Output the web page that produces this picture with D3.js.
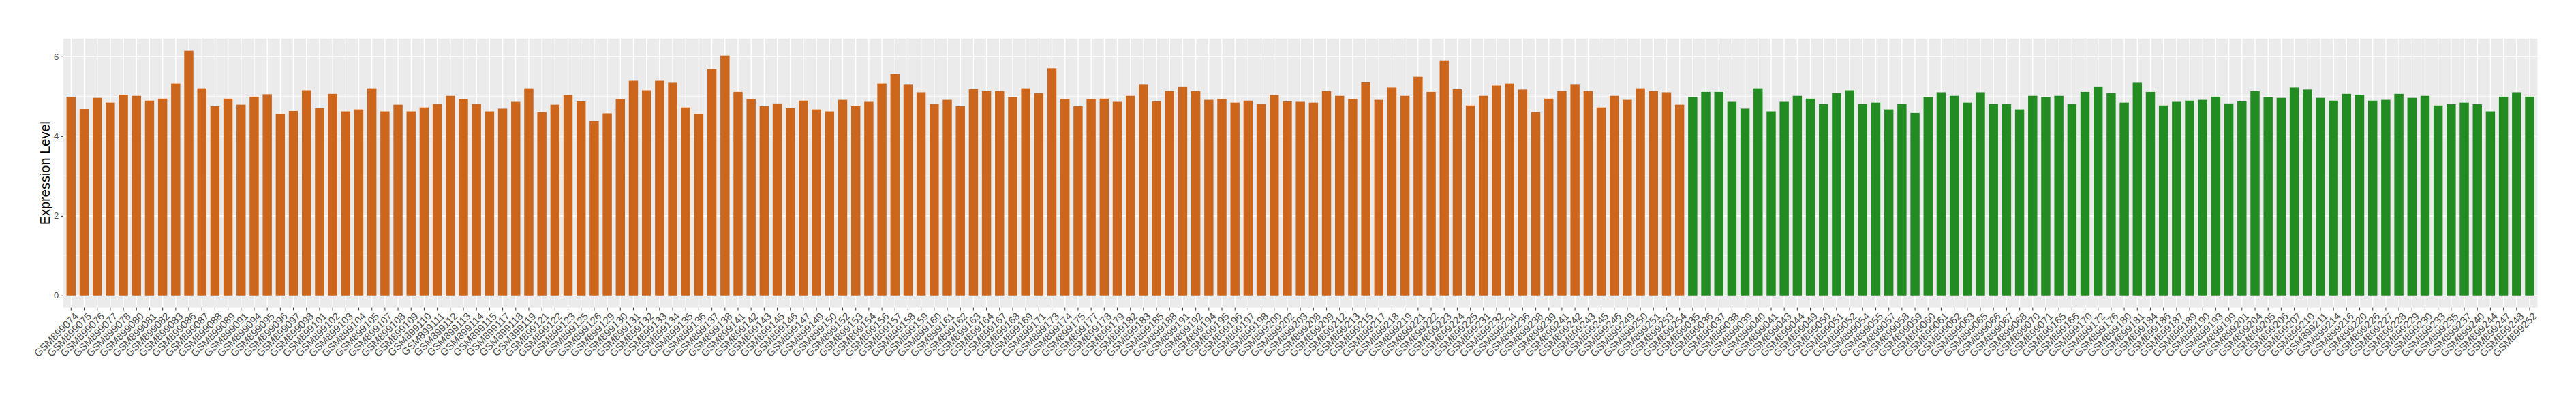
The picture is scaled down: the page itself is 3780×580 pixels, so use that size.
<!DOCTYPE html>
<html>
<head>
<meta charset="utf-8">
<script src="https://cdn.jsdelivr.net/npm/d3@7"></script>
<style>
  html, body { margin: 0; padding: 0; background: #ffffff; }
  svg { display: block; font-family: "Liberation Sans", Arial, Helvetica, sans-serif; }
</style>
</head>
<body>
<svg id="chart" width="3780" height="580"></svg>
<script>
// ---------- DATA ----------
const groupASamples = [
  "GSM899074","GSM899075","GSM899076","GSM899077","GSM899078","GSM899080","GSM899081","GSM899082","GSM899083","GSM899086",
  "GSM899087","GSM899088","GSM899089","GSM899091","GSM899094","GSM899095","GSM899096","GSM899097","GSM899098","GSM899101",
  "GSM899102","GSM899103","GSM899104","GSM899105","GSM899107","GSM899108","GSM899109","GSM899110","GSM899111","GSM899112",
  "GSM899113","GSM899114","GSM899115","GSM899117","GSM899118","GSM899119","GSM899121","GSM899122","GSM899123","GSM899125",
  "GSM899126","GSM899129","GSM899130","GSM899131","GSM899132","GSM899133","GSM899134","GSM899135","GSM899136","GSM899137",
  "GSM899138","GSM899141","GSM899142","GSM899143","GSM899145","GSM899146","GSM899147","GSM899149","GSM899150","GSM899152",
  "GSM899153","GSM899154","GSM899156","GSM899157","GSM899158","GSM899159","GSM899160","GSM899161","GSM899162","GSM899163",
  "GSM899164","GSM899167","GSM899168","GSM899169","GSM899171","GSM899173","GSM899174","GSM899175","GSM899177","GSM899178",
  "GSM899179","GSM899182","GSM899183","GSM899185","GSM899188","GSM899191","GSM899192","GSM899194","GSM899195","GSM899196",
  "GSM899197","GSM899198","GSM899200","GSM899202","GSM899203","GSM899208","GSM899209","GSM899212","GSM899213","GSM899215",
  "GSM899217","GSM899218","GSM899219","GSM899221","GSM899222","GSM899223","GSM899224","GSM899225","GSM899231","GSM899232",
  "GSM899234","GSM899236","GSM899238","GSM899239","GSM899241","GSM899242","GSM899243","GSM899245","GSM899246","GSM899249",
  "GSM899250","GSM899251","GSM899253","GSM899254"
];
const groupAValues = [
  4.99,4.68,4.96,4.84,5.04,5.01,4.89,4.94,5.32,6.14,
  5.20,4.75,4.94,4.79,4.99,5.05,4.55,4.63,5.15,4.70,
  5.06,4.62,4.67,5.20,4.62,4.79,4.62,4.72,4.81,5.01,
  4.93,4.81,4.62,4.69,4.86,5.20,4.60,4.79,5.03,4.87,
  4.38,4.57,4.93,5.39,5.15,5.39,5.34,4.72,4.55,5.68,
  6.02,5.11,4.93,4.75,4.82,4.70,4.89,4.67,4.62,4.91,
  4.75,4.86,5.32,5.56,5.29,5.10,4.81,4.91,4.75,5.18,
  5.13,5.13,4.98,5.20,5.08,5.70,4.93,4.75,4.93,4.94,
  4.86,5.01,5.29,4.87,5.13,5.23,5.13,4.91,4.93,4.84,
  4.89,4.81,5.03,4.87,4.86,4.84,5.13,5.01,4.93,5.35,
  4.91,5.22,5.01,5.49,5.11,5.90,5.18,4.77,5.01,5.27,
  5.32,5.17,4.60,4.94,5.13,5.29,5.13,4.72,5.01,4.91,
  5.20,5.13,5.10,4.79
];
const groupBSamples = [
  "GSM899035","GSM899036","GSM899037","GSM899038","GSM899039","GSM899040","GSM899041","GSM899043","GSM899044","GSM899049",
  "GSM899050","GSM899051","GSM899052","GSM899054","GSM899055","GSM899057","GSM899058","GSM899059","GSM899060","GSM899061",
  "GSM899062","GSM899063","GSM899065","GSM899066","GSM899067","GSM899068","GSM899070","GSM899071","GSM899165","GSM899166",
  "GSM899170","GSM899172","GSM899176","GSM899180","GSM899181","GSM899184","GSM899186","GSM899187","GSM899189","GSM899190",
  "GSM899193","GSM899199","GSM899201","GSM899204","GSM899205","GSM899206","GSM899207","GSM899210","GSM899211","GSM899214",
  "GSM899216","GSM899220","GSM899226","GSM899227","GSM899228","GSM899229","GSM899230","GSM899233","GSM899235","GSM899237",
  "GSM899240","GSM899244","GSM899247","GSM899248","GSM899252"
];
const groupBValues = [
  4.98,5.11,5.11,4.86,4.69,5.20,4.62,4.86,5.01,4.94,
  4.81,5.08,5.15,4.81,4.84,4.67,4.81,4.58,4.98,5.10,
  5.01,4.84,5.10,4.81,4.81,4.67,5.01,4.98,5.01,4.81,
  5.11,5.23,5.08,4.84,5.34,5.11,4.77,4.86,4.89,4.91,
  4.99,4.82,4.87,5.13,4.98,4.96,5.22,5.17,4.96,4.89,
  5.06,5.04,4.89,4.91,5.06,4.96,5.01,4.77,4.80,4.84,
  4.80,4.62,4.99,5.10,4.99
];
const groupColors = ["#CD661D", "#228B22"];
const yTickValues = [0, 2, 4, 6];
const yMinorValues = [1, 3, 5];
const yTitle = "Expression Level";

// ---------- BUILD ----------
const rows = [];
groupASamples.forEach((s, i) => rows.push({ sample: s, value: groupAValues[i], group: 0 }));
groupBSamples.forEach((s, i) => rows.push({ sample: s, value: groupBValues[i], group: 1 }));

const svg = d3.select("#chart");
const panel = { left: 92.8, right: 3723.5, top: 56.7, bottom: 451.7 };

const x = d3.scaleBand()
  .domain(rows.map(d => d.sample))
  .range([panel.left, panel.right])
  .paddingInner(0.3)
  .paddingOuter(0.25);

const maxV = d3.max(rows, d => d.value);
const y = d3.scaleLinear()
  .domain([0 - 0.05 * maxV, maxV * 1.05])
  .range([panel.bottom, panel.top]);

// panel background
svg.append("rect")
  .attr("x", panel.left).attr("y", panel.top)
  .attr("width", panel.right - panel.left)
  .attr("height", panel.bottom - panel.top)
  .attr("fill", "#EBEBEB");

const grid = svg.append("g");
grid.selectAll("line.minor").data(yMinorValues).join("line")
  .attr("x1", panel.left).attr("x2", panel.right)
  .attr("y1", d => y(d)).attr("y2", d => y(d))
  .attr("stroke", "#ffffff").attr("stroke-width", 0.7);
grid.selectAll("line.major").data(yTickValues).join("line")
  .attr("x1", panel.left).attr("x2", panel.right)
  .attr("y1", d => y(d)).attr("y2", d => y(d))
  .attr("stroke", "#ffffff").attr("stroke-width", 1.4);
grid.selectAll("line.vx").data(rows).join("line")
  .attr("x1", d => x(d.sample) + x.bandwidth() / 2)
  .attr("x2", d => x(d.sample) + x.bandwidth() / 2)
  .attr("y1", panel.top).attr("y2", panel.bottom)
  .attr("stroke", "#ffffff").attr("stroke-width", 1.4);

// bars
svg.append("g").selectAll("rect").data(rows).join("rect")
  .attr("x", d => x(d.sample))
  .attr("width", x.bandwidth())
  .attr("y", d => y(d.value))
  .attr("height", d => y(0) - y(d.value))
  .attr("fill", d => groupColors[d.group]);

// y axis
const yAxis = svg.append("g")
  .attr("transform", `translate(${panel.left},0)`)
  .call(d3.axisLeft(y).tickValues(yTickValues).tickSize(3.7).tickPadding(3).tickFormat(d3.format("d")));
yAxis.select(".domain").remove();
yAxis.selectAll(".tick line").attr("stroke", "#333333").attr("stroke-width", 1.1);
yAxis.selectAll(".tick text").attr("fill", "#4D4D4D").style("font-size", "13px")
  .style("font-family", "'Liberation Sans', Arial, sans-serif");

// x axis
const xAxis = svg.append("g")
  .attr("transform", `translate(0,${panel.bottom})`)
  .call(d3.axisBottom(x).tickSize(3.7).tickSizeOuter(0));
xAxis.select(".domain").remove();
xAxis.selectAll(".tick line").attr("stroke", "#333333").attr("stroke-width", 1.1);
xAxis.selectAll(".tick text")
  .attr("fill", "#4D4D4D")
  .style("font-size", "15px")
  .style("font-family", "'Liberation Sans', Arial, sans-serif")
  .attr("text-anchor", "end")
  .attr("y", 0).attr("dy", "0.71em")
  .attr("transform", "translate(4,6) rotate(-45)");

// y title
svg.append("text")
  .attr("transform", `translate(66,${(panel.top + panel.bottom) / 2}) rotate(-90)`)
  .attr("text-anchor", "middle")
  .attr("dominant-baseline", "central")
  .attr("fill", "#000000")
  .style("font-size", "20px")
  .text(yTitle);
</script>
</body>
</html>
